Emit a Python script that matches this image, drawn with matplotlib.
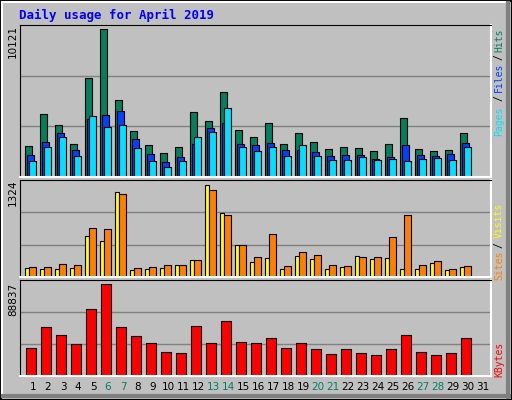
import matplotlib.pyplot as plt
import numpy as np
from matplotlib.patches import Rectangle

days = np.arange(1, 31)
hits = [2152, 4282, 3526, 2290, 6755, 10121, 5244, 3114, 2221, 1672, 2084, 4419, 3801, 5793, 3183, 2702, 3664, 2290, 2977, 2427, 1946, 2084, 2015, 1809, 2290, 4007, 1946, 1809, 1878, 2977]
files = [1534, 2427, 2977, 1878, 3939, 4213, 4488, 2565, 1603, 1053, 1397, 2290, 3320, 3664, 2290, 2221, 2359, 1878, 1878, 1740, 1466, 1534, 1534, 1259, 1397, 2221, 1534, 1466, 1603, 2359]
pages = [1122, 2084, 2702, 1466, 4145, 3389, 3526, 2015, 1122, 710, 1122, 2702, 3046, 4694, 2084, 1809, 2084, 1466, 2221, 1466, 1191, 1191, 1397, 1191, 1259, 1122, 1259, 1328, 1191, 2084]
visits = [134, 120, 120, 134, 593, 521, 1224, 105, 120, 134, 177, 249, 1324, 923, 464, 220, 277, 120, 306, 263, 120, 148, 306, 263, 277, 120, 120, 206, 105, 148]
sites = [148, 148, 191, 177, 709, 694, 1196, 134, 148, 177, 177, 249, 1253, 895, 464, 292, 623, 163, 364, 321, 177, 163, 292, 292, 579, 895, 177, 234, 120, 163]
kbytes = [27468, 46852, 40069, 31346, 64297, 88837, 46852, 39101, 32316, 23590, 22620, 47821, 32316, 52668, 33285, 32316, 37162, 27468, 32316, 26499, 21650, 26499, 22620, 20681, 26499, 40069, 23590, 20681, 22620, 37162]
weekend = [6, 7, 13, 14, 20, 21, 27, 28]

BG = '#c0c0c0'
W, H = 512, 400
fig = plt.figure(figsize=(5.12, 4.0), dpi=100, facecolor=BG)

# bevelled outer border
bor = fig.add_axes([0, 0, 1, 1])
bor.set_xlim(0, W)
bor.set_ylim(H, 0)
bor.axis('off')
bor.add_patch(Rectangle((0.5, 0.5), W - 1, H - 1, fill=False, ec='black', lw=1.5))
bor.plot([2, W - 3], [2, 2], color='white', lw=1.5)
bor.plot([2, 2], [2, H - 3], color='white', lw=1.5)
bor.plot([3, W - 3], [H - 4, H - 4], color='#808080', lw=3)
bor.plot([W - 4, W - 4], [3, H - 3], color='#808080', lw=3)

mono = 'DejaVu Sans Mono'
fig.text(19 / W, 1 - 15 / H, 'Daily usage for April 2019', color='#0000ff',
         family=mono, weight='bold', fontsize=9, va='center')

x0, x1 = 20, 491
xlim = (0.13, 0.13 + 31.4)


def panel(top, bottom):
    ax = fig.add_axes([x0 / W, 1 - bottom / H, (x1 - x0) / W, (bottom - top) / H])
    ax.set_facecolor(BG)
    ax.set_xlim(*xlim)
    ax.set_xticks([])
    ax.set_yticks([])
    for s in ['top', 'left']:
        ax.spines[s].set_color('black')
    for s in ['bottom', 'right']:
        ax.spines[s].set_color('white')
        ax.spines[s].set_linewidth(1.5)
    return ax


def grid(ax, top):
    for f in (1 / 3, 2 / 3):
        ax.axhline(top * f, color='#808080', lw=1, zorder=0)


# top panel
ax = panel(25, 177)
ytop = max(hits) * 152 / 148
ax.set_ylim(0, ytop)
grid(ax, ytop)
bw = 0.49
ax.bar(days - 0.55, hits, bw, align='edge', color='#00805c', ec='black', lw=0.8)
ax.bar(days - 0.42, files, bw, align='edge', color='#0040ff', ec='black', lw=0.8)
ax.bar(days - 0.28, pages, bw, align='edge', color='#00e0ff', ec='black', lw=0.8)
fig.text(13 / W, 1 - 25 / H, '10121', rotation=90, fontsize=7.5, va='top', ha='center')

# middle panel
ax = panel(180, 277)
ytop = max(visits) * 97 / 92
ax.set_ylim(0, ytop)
grid(ax, ytop)
ax.bar(days - 0.55, visits, 0.3, align='edge', color='#ffff00', ec='black', lw=0.8)
ax.bar(days - 0.3, sites, 0.5, align='edge', color='#ff8000', ec='black', lw=0.8)
fig.text(13 / W, 1 - 180 / H, '1324', rotation=90, fontsize=7.5, va='top', ha='center')

# bottom panel
ax = panel(280, 376)
ytop = max(kbytes) * 96 / 92
ax.set_ylim(0, ytop)
grid(ax, ytop)
ax.bar(days - 0.47, kbytes, 0.67, align='edge', color='#ff0000', ec='black', lw=0.8)
ax.set_xticks(np.arange(1, 32))
ax.set_xticklabels([str(d) for d in range(1, 32)], fontsize=7.5)
ax.tick_params(length=0, pad=4)
for lab in ax.get_xticklabels():
    if int(lab.get_text()) in weekend:
        lab.set_color('#00805c')
fig.text(13 / W, 1 - 283 / H, '88837', rotation=90, fontsize=7.5, va='top', ha='center')

# right-hand legends
def side(y, txt, col):
    fig.text(499 / W, 1 - y / H, txt, rotation=90, color=col, family=mono,
             fontsize=7, ha='center', va='center')

side(40, 'Hits', '#00805c')
side(57, '/', 'black')
side(77, 'Files', '#0040ff')
side(98, '/', 'black')
side(121, 'Pages', '#00e0ff')
side(220, 'Visits', '#ffff00')
side(245, '/', 'black')
side(265, 'Sites', '#ff8000')
side(359, 'KBytes', '#ff0000')

fig.savefig('out.png', dpi=100, facecolor=BG)
